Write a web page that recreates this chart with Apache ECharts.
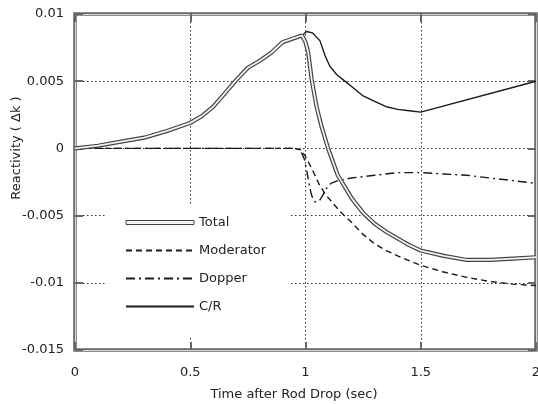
<!DOCTYPE html>
<html>
<head>
<meta charset="utf-8">
<script src="https://cdn.jsdelivr.net/npm/echarts@6/dist/echarts.min.js"></script>
<style>
  html, body { margin: 0; padding: 0; background: #fff; }
  #main { width: 538px; height: 404px; }
</style>
</head>
<body>
<div id="main"></div>
<script>
// values
var xTicks = [0, 0.5, 1, 1.5, 2];
var yTicks = ['-0.015', '-0.01', '-0.005', '0', '0.005', '0.01'];

var totalT = [0, 0.1, 0.2, 0.3, 0.4, 0.5, 0.55, 0.6, 0.65, 0.7, 0.75, 0.8, 0.85, 0.9, 0.95, 0.985,
              1.0, 1.012, 1.027, 1.048, 1.07, 1.1, 1.14, 1.2, 1.25, 1.3, 1.35, 1.4, 1.45, 1.5, 1.6, 1.7, 1.8, 1.9, 2.0];
var totalV = [0, 0.0002, 0.0005, 0.0008, 0.0013, 0.0019, 0.0024, 0.0031, 0.0041, 0.0051, 0.0060, 0.0065, 0.0071, 0.0079, 0.0082, 0.0084,
              0.0079, 0.0071, 0.0051, 0.0031, 0.0016, -0.0001, -0.0020, -0.0037, -0.0048, -0.0056, -0.0062, -0.0067, -0.0072, -0.0076, -0.0080, -0.0083, -0.0083, -0.0082, -0.0081];

var crT = [0, 0.1, 0.2, 0.3, 0.4, 0.5, 0.55, 0.6, 0.65, 0.7, 0.75, 0.8, 0.85, 0.9, 0.95, 0.985,
           1.005, 1.03, 1.063, 1.085, 1.106, 1.135, 1.164, 1.2, 1.25, 1.3, 1.35, 1.4, 1.45, 1.5, 2.0];
var crV = [0, 0.0002, 0.0005, 0.0008, 0.0013, 0.0019, 0.0024, 0.0031, 0.0041, 0.0051, 0.0060, 0.0065, 0.0071, 0.0079, 0.0082, 0.0084,
           0.0087, 0.0086, 0.0080, 0.0069, 0.0061, 0.0055, 0.0051, 0.0046, 0.0039, 0.0035, 0.0031, 0.0029, 0.0028, 0.0027, 0.0050];

var modT = [0, 0.95, 0.98, 1.0, 1.03, 1.06, 1.09, 1.11, 1.15, 1.2, 1.25, 1.3, 1.35, 1.4, 1.5, 1.6, 1.7, 1.8, 1.9, 2.0];
var modV = [0, 0, -0.0001, -0.0006, -0.0016, -0.0027, -0.0035, -0.0039, -0.0047, -0.0055, -0.0064, -0.0071, -0.0076, -0.0080, -0.0087, -0.0092, -0.0096, -0.0099, -0.0101, -0.0102];

var dopT = [0, 0.96, 0.98, 0.995, 1.005, 1.015, 1.025, 1.035, 1.045, 1.06, 1.075, 1.09, 1.11, 1.14, 1.2, 1.3, 1.4, 1.5, 1.6, 1.7, 1.8, 1.9, 2.0];
var dopV = [0, 0, -0.0002, -0.0008, -0.0016, -0.0026, -0.0034, -0.0039, -0.0040, -0.0039, -0.0035, -0.0030, -0.0026, -0.0024, -0.0022, -0.0020, -0.0018, -0.0018, -0.0019, -0.0020, -0.0022, -0.0024, -0.0026];

function pairs(t, v) {
  return t.map(function (x, i) { return [x, v[i]]; });
}

var font = 'DejaVu Sans';
var myChart = echarts.init(document.getElementById('main'));

var dotted = { color: '#333', width: 1, type: [1.5, 2.5] };
var tickStyle = { show: true, inside: true, length: 8, lineStyle: { color: '#666', width: 2 } };
var lineAxis = { show: true, onZero: false, lineStyle: { color: '#dadada', width: 1.2 } };

var option = {
  animation: false,
  backgroundColor: '#fff',
  grid: {
    left: 75, right: 2, top: 14, bottom: 54, outerBoundsMode: 'none',
    show: true, borderColor: '#666', borderWidth: 3.6
  },
  legend: {
    orient: 'vertical',
    left: 107, top: 206,
    padding: [10, 25, 24, 18],
    backgroundColor: '#fff',
    itemWidth: 68, itemHeight: 4, itemGap: 15,
    itemStyle: { opacity: 0 },
    textStyle: { fontFamily: font, fontSize: 13, color: '#222' },
    data: [
      { name: 'Total', icon: 'rect', itemStyle: { opacity: 1, color: '#f2f2f2', borderColor: '#444', borderWidth: 1 } },
      'Moderator', 'Dopper', 'C/R'
    ]
  },
  xAxis: [{
    type: 'value', position: 'bottom', min: 0, max: 2, interval: 0.5,
    axisLine: lineAxis, axisTick: tickStyle,
    axisLabel: {
      margin: 16, fontFamily: font, fontSize: 13, color: '#222',
      formatter: function (v) { return String(xTicks[Math.round(v / 0.5)]); }
    },
    splitLine: { show: true, showMinLine: false, showMaxLine: false, lineStyle: dotted }
  }, {
    type: 'value', position: 'top', min: 0, max: 2, interval: 0.5,
    axisLine: lineAxis, axisTick: tickStyle, axisLabel: { show: false }, splitLine: { show: false }
  }],
  yAxis: [{
    type: 'value', position: 'left', min: -0.015, max: 0.01, interval: 0.005,
    axisLine: lineAxis, axisTick: tickStyle,
    axisLabel: {
      margin: 11, fontFamily: font, fontSize: 13, color: '#222',
      formatter: function (v) { return yTicks[Math.round((v + 0.015) / 0.005)]; }
    },
    splitLine: { show: true, showMinLine: false, showMaxLine: false, lineStyle: dotted }
  }, {
    type: 'value', position: 'right', min: -0.015, max: 0.01, interval: 0.005,
    axisLine: lineAxis, axisTick: tickStyle, axisLabel: { show: false }, splitLine: { show: false }
  }],
  graphic: [
    { type: 'text', x: 17, y: 148, rotation: Math.PI / 2,
      style: { text: 'Reactivity ( \u0394k )', align: 'center', verticalAlign: 'middle', font: '13px "DejaVu Sans"', fill: '#222' } },
    { type: 'text', x: 294, y: 395,
      style: { text: 'Time after Rod Drop (sec)', align: 'center', verticalAlign: 'middle', font: '13px "DejaVu Sans"', fill: '#222' } }
  ],
  series: [
    { name: 'C/R', type: 'line', symbol: 'none', data: pairs(crT, crV),
      lineStyle: { color: '#1a1a1a', width: 1.4 } },
    { name: 'Moderator', type: 'line', symbol: 'none', data: pairs(modT, modV),
      lineStyle: { color: '#1a1a1a', width: 1.4, type: [6, 4] } },
    { name: 'Dopper', type: 'line', symbol: 'none', data: pairs(dopT, dopV),
      lineStyle: { color: '#1a1a1a', width: 1.4, type: [9, 4, 2, 4] } },
    { name: 'Total', type: 'line', symbol: 'none', data: pairs(totalT, totalV),
      itemStyle: { color: '#444' },
      lineStyle: { color: '#444', width: 4.2 } },
    { name: 'TotalCore', type: 'line', symbol: 'none', silent: true, data: pairs(totalT, totalV),
      lineStyle: { color: '#f2f2f2', width: 1.8 } }
  ]
};

myChart.setOption(option, true);
</script>
</body>
</html>
